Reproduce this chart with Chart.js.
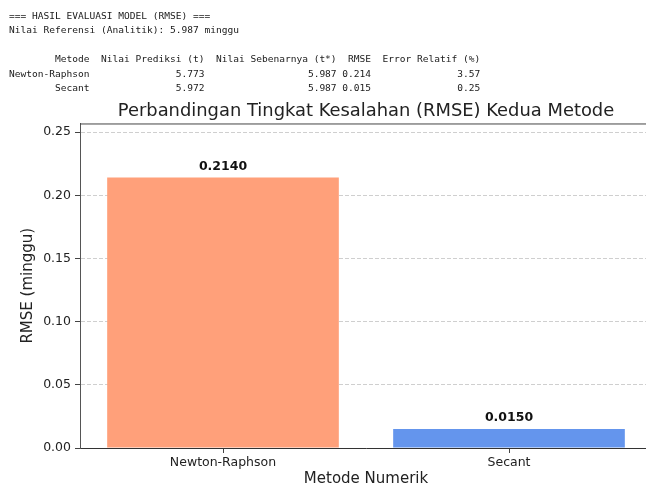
<!DOCTYPE html>
<html>
<head>
<meta charset="utf-8">
<script src="https://cdn.jsdelivr.net/npm/chart.js@4/dist/chart.umd.min.js"></script>
<style>
html, body { margin: 0; padding: 0; overflow: hidden; background: #fff; }
#out {
	position: absolute; left: 9px; top: 9px; margin: 0; z-index: 2;
	font-family: "DejaVu Sans Mono", monospace; font-size: 9.55px; line-height: 14.4px;
	color: #1a1a1a; white-space: pre;
	}
#wrap { position: absolute; left: 0; top: 0; width: 660px; height: 488px; }
</style>
</head>
<body>
<pre id="out"></pre>
<div id="wrap"><canvas id="myChart" width="660" height="488" style="width:660px;height:488px"></canvas></div>
<script>
// Data

var Methods = ["Newton-Raphson", "Secant"];
var Predicted = [5.773, 5.972];
var Reference = [5.987, 5.987];
var RMSE = [0.214, 0.015];
var RelError = [3.57, 0.25];
var BarColors = ["#FFA07A", "#6495ED"];
var YTicks = [0.00, 0.05, 0.10, 0.15, 0.20, 0.25];

// Text output above the chart

function pad_left(s, n) {
	s = String(s);
	while (s.length < n) s = " " + s;
	return s;
	}

var lines = [];
lines.push("=== HASIL EVALUASI MODEL (RMSE) ===");
lines.push("Nilai Referensi (Analitik): " + Reference[0].toFixed(3) + " minggu");
lines.push("");
lines.push(pad_left("Metode", 14) + "  Nilai Prediksi (t)  Nilai Sebenarnya (t*)  RMSE  Error Relatif (%)");
for (var i = 0; i < Methods.length; i++) {
	lines.push(pad_left(Methods[i], 14) + "  " +
		pad_left(Predicted[i].toFixed(3), 18) + "  " +
		pad_left(Reference[i].toFixed(3), 21) + " " +
		pad_left(RMSE[i].toFixed(3), 5) + "  " +
		pad_left(RelError[i].toFixed(2), 17));
	}
document.getElementById("out").textContent = lines.join("\n");

// Chart

Chart.defaults.font.family = "'DejaVu Sans', sans-serif";
Chart.defaults.color = "#222";

// top spine (right spine falls outside the window, as in the original)
var spines = {
	id: "spines",
	afterDraw: function(chart) {
		var a = chart.chartArea;
		var ctx = chart.ctx;
		ctx.save();
		ctx.strokeStyle = "#444";
		ctx.lineWidth = 1;
		ctx.beginPath();
		ctx.moveTo(a.left, a.top + 0.5);
		ctx.lineTo(a.right, a.top + 0.5);
		ctx.stroke();
		ctx.restore();
		}
	};

var barLabels = {
	id: "barLabels",
	afterDatasetsDraw: function(chart) {
		var ctx = chart.ctx;
		var meta = chart.getDatasetMeta(0);
		ctx.save();
		ctx.font = "bold 12.5px 'DejaVu Sans'";
		ctx.fillStyle = "#111";
		ctx.textAlign = "center";
		ctx.textBaseline = "alphabetic";
		meta.data.forEach(function(bar, k) {
			ctx.fillText(RMSE[k].toFixed(4), bar.x, bar.y - 8);
			});
		ctx.restore();
		}
	};

var Ctxt = document.getElementById("myChart").getContext("2d");
var ChartInst = new Chart(Ctxt, {
	type: "bar",
	data: {
		labels: Methods,
		datasets: [{
			data: RMSE,
			backgroundColor: BarColors,
			borderWidth: 0,
			categoryPercentage: 1.0,
			barPercentage: 0.81
			}]
		},
	options: {
		responsive: false,
		animation: false,
		layout: { padding: { left: 0, right: 8, top: 0, bottom: 0 } },
		plugins: {
			legend: { display: false },
			tooltip: { enabled: false },
			title: {
				display: true,
				fullSize: false,
				text: "Perbandingan Tingkat Kesalahan (RMSE) Kedua Metode",
				font: { size: 17.9, weight: "normal" },
				color: "#222",
				padding: { top: 101, bottom: 1 }
				}
			},
		scales: {
			x: {
				afterFit: function(s) { s.height = 40; },
				grid: { display: true, drawOnChartArea: false, drawTicks: true, tickLength: 5, tickColor: "#444", offset: false },
				border: { display: true, color: "#333", width: 1 },
				ticks: { font: { size: 12.5 }, color: "#222", padding: 2, maxRotation: 0 },
				title: { display: true, text: "Metode Numerik", font: { size: 15 }, color: "#222", padding: { top: 0, bottom: 0 } }
				},
			y: {
				min: 0,
				max: Math.max.apply(null, RMSE) * 1.2,
				bounds: "data",
				afterFit: function(s) { s.width = 80; },
				afterBuildTicks: function(s) {
					s.ticks = YTicks.map(function(v) { return { value: v }; });
					},
				grid: { color: "#cfcfcf", lineWidth: 1, drawTicks: true, tickLength: 5, tickColor: "#444", tickBorderDash: [] },
				border: { display: true, color: "#555", width: 1, dash: [4, 2] },
				ticks: {
					font: { size: 12.5 }, color: "#222", padding: 4,
					callback: function(v) { return Number(v).toFixed(2); }
					},
				title: { display: true, text: "RMSE (minggu)", font: { size: 15 }, color: "#222", padding: { top: 19, bottom: 0 } }
				}
			}
		},
	plugins: [spines, barLabels]
	});
</script>
</body>
</html>
